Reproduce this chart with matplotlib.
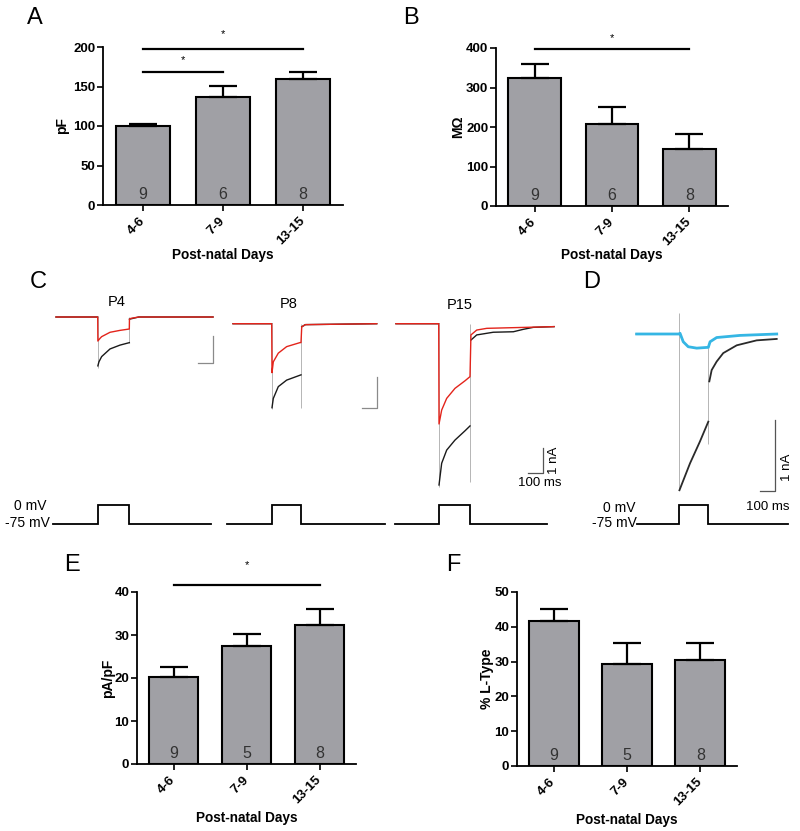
import numpy as np
import matplotlib
matplotlib.use('Agg')
import matplotlib.pyplot as plt

plt.rcParams['font.family'] = ['Liberation Sans', 'DejaVu Sans']
NARROW = ['Liberation Sans Narrow', 'Liberation Sans', 'DejaVu Sans']

# ---------------- bar chart data ----------------
categories = ['4-6', '7-9', '13-15']

cap_mean = [100, 137, 160]          # A: pF
cap_sem = [3, 14, 8]
cap_n = [9, 6, 8]

res_mean = [325, 207, 145]          # B: MOhm
res_sem = [35, 43, 37]
res_n = [9, 6, 8]

dens_mean = [20.3, 27.5, 32.4]      # E: pA/pF
dens_sem = [2.2, 2.8, 3.6]
dens_n = [9, 5, 8]

ltype_mean = [41.6, 29.3, 30.5]     # F: % L-type
ltype_sem = [3.6, 6.0, 4.8]
ltype_n = [9, 5, 8]

# significance brackets: (from index, to index, line value, star value)
cap_sig = [(0, 1, 168, 184), (0, 2, 198, 216)]
res_sig = [(0, 2, 398, 424)]
dens_sig = [(0, 2, 41.7, 46.3)]
ltype_sig = []

# ---------------- current traces (ms, nA; relative to pulse onset / baseline) ----------------
nan = np.nan
p4_red_t = [-264, 0, 1, 15, 25, 78, 141, 200, 201, 210, 260, 730]
p4_red_i = [0, 0, -0.88, -0.78, -0.72, -0.56, -0.49, -0.44, -0.08, -0.05, 0, 0]
p4_blk_t = [-264, 0, nan, 1, 8, 25, 78, 141, 200, nan, 201, 260, 730]
p4_blk_i = [0, 0, nan, -1.79, -1.64, -1.45, -1.17, -1.03, -0.94, nan, -0.08, 0, 0]

p8_red_t = [-264, 0, 2, 11, 45, 102, 193, 200, 205, 230, 717]
p8_red_i = [0, 0, -1.58, -1.23, -0.95, -0.74, -0.61, -0.61, -0.10, -0.03, 0]
p8_blk_t = [-264, 0, nan, 2, 11, 45, 102, 200, nan, 205, 230, 717]
p8_blk_i = [0, 0, nan, -2.71, -2.41, -2.03, -1.82, -1.65, nan, -0.10, -0.03, 0]

p15_red_t = [-273, 0, 2, 19, 51, 104, 168, 200, 206, 243, 307, 737]
p15_red_i = [0, 0, -4.11, -3.54, -3.06, -2.65, -2.34, -2.17, -0.46, -0.26, -0.19, -0.12]
p15_blk_t = [-273, 0, nan, 2, 19, 51, 104, 168, 200, nan, 206, 243, 349, 477, 541, 604, 737]
p15_blk_i = [0, 0, nan, -6.61, -5.72, -5.18, -4.77, -4.39, -4.19, nan, -0.67, -0.46, -0.35, -0.33, -0.23, -0.15, -0.12]

d_cyan_t = [-289, 0, 7, 29, 63, 121, 189, 200, 212, 257, 416, 667]
d_cyan_i = [0, 0, 0.01, -0.11, -0.18, -0.20, -0.19, -0.19, -0.11, -0.05, -0.02, 0]
d_blk_t = [-289, 0, nan, 3, 75, 143, 200, nan, 207, 223, 257, 302, 394, 530, 667]
d_blk_i = [0, 0, nan, -2.21, -1.83, -1.52, -1.24, nan, -0.67, -0.51, -0.39, -0.27, -0.16, -0.09, -0.07]

# capacitive transients (time, top, bottom)
p4_tr = ([0, 200], [0, 0], [-1.85, -0.94])
p8_tr = ([0, 200], [0, 0], [-2.75, -2.72])
p15_tr = ([0, 200], [0, 0], [-6.70, -6.47])
d_tr = ([0, 200], [0.30, -0.20], [-2.21, -1.55])

# voltage protocol
v_hold, v_step = -75, 0
pulse_ms = 200
proto_span = {'P4': (-285, 715), 'P8': (-307, 773), 'P15': (-278, 691), 'D': (-284, 746)}

# ---------------- figure ----------------
W, H = 800, 831
fig = plt.figure(figsize=(W / 100, H / 100), dpi=100)


def px_axes(x0, y0, x1, y1):
    return fig.add_axes([x0 / W, 1 - y1 / H, (x1 - x0) / W, (y1 - y0) / H])


def bar_panel(box, means, sems, ns, ymax, ystep, ylabel, sigs, xlab_off, ylab_off):
    ax = px_axes(*box)
    wpx = box[2] - box[0]
    hpx = box[3] - box[1]
    x = np.arange(len(categories))
    ax.bar(x, means, width=0.68, color='#a0a0a5', edgecolor='black', linewidth=1.5, zorder=3)
    ax.errorbar(x, means, yerr=[np.zeros(len(sems)), sems], fmt='none', ecolor='black',
                elinewidth=1.6, capsize=10, capthick=1.6, zorder=4)
    ax.set_xlim(-0.5, 2.5)
    ax.set_ylim(0, ymax)
    ax.set_yticks(np.arange(0, ymax + ystep / 2, ystep))
    ax.set_xticks(x)
    ax.set_xticklabels(categories, rotation=45, ha='right', va='center', rotation_mode='anchor',
                       fontweight='bold', fontsize=9.5)
    for lab in ax.get_yticklabels():
        lab.set_fontweight('bold')
        lab.set_fontsize(9.5)
    ax.tick_params(axis='both', direction='out', length=4, width=1.2, pad=1.5)
    ax.tick_params(axis='x', pad=6)
    for s in ['top', 'right']:
        ax.spines[s].set_visible(False)
    for s in ['left', 'bottom']:
        ax.spines[s].set_linewidth(1.3)
    ax.set_ylabel(ylabel, fontweight='bold', fontsize=10, va='center')
    ax.yaxis.set_label_coords(-ylab_off / wpx, 0.5)
    ax.set_xlabel('Post-natal Days', fontweight='bold', fontsize=9.8, va='center')
    ax.xaxis.set_label_coords(0.5, -xlab_off / hpx)
    for xi, n in zip(x, ns):
        ax.text(xi, ymax * 0.018, str(n), ha='center', va='bottom', fontsize=11.5, color='#333333', zorder=5)
    for a, b, yl, ys in sigs:
        ax.plot([a, b], [yl, yl], color='black', lw=1.6, clip_on=False, zorder=5)
        ax.text((a + b) / 2, ys, '*', ha='center', va='center', fontsize=8, clip_on=False)
    return ax


bar_panel((103, 47, 343, 205), cap_mean, cap_sem, cap_n, 200, 50, 'pF', cap_sig, 50, 41)
bar_panel((496, 48, 728, 206), res_mean, res_sem, res_n, 400, 100, 'M\u03a9', res_sig, 49, 38)
bar_panel((137, 592, 356, 764), dens_mean, dens_sem, dens_n, 40, 10, 'pA/pF', dens_sig, 54, 29)
bar_panel((517, 592, 737, 766), ltype_mean, ltype_sem, ltype_n, 50, 10, '% L-Type', ltype_sig, 54, 30)


# ---------------- trace panels ----------------
def trace_axes(box, t0, base, sx, sy):
    x0, y0, x1, y1 = box
    ax = px_axes(*box)
    ax.set_xlim((x0 - t0) / sx, (x1 - t0) / sx)
    ax.set_ylim(-(y1 - base) / sy, -(y0 - base) / sy)
    ax.axis('off')
    return ax


def proto_axes(box, t0, sx, base=524.3, top=505.0):
    x0, y0, x1, y1 = box
    ax = px_axes(*box)
    ax.set_xlim((x0 - t0) / sx, (x1 - t0) / sx)
    spv = (base - top) / (v_step - v_hold)
    ax.set_ylim(v_hold - (y1 - base) / spv, v_hold + (base - y0) / spv)
    ax.axis('off')
    return ax


def draw_proto(ax, span):
    t = [span[0], 0, 0, pulse_ms, pulse_ms, span[1]]
    v = [v_hold, v_hold, v_step, v_step, v_hold, v_hold]
    ax.plot(t, v, color='black', lw=1.3, solid_joinstyle='miter')


def scalebar(ax, tc, ic, color, lw=0.9):
    ax.plot([tc - 100, tc, tc], [ic, ic, ic + 1], color=color, lw=lw)


RED = '#e3241b'
BLK = '#1a1a1a'
GRY = '#b5b5b5'
CYAN = '#35b6e4'

groups = [
    ('P4', (40, 285, 230, 420), 97.7, 317.0, 0.158, 27.3, (0, 490, 225, 540)),
    ('P8', (220, 285, 395, 430), 271.7, 323.7, 0.1465, 31.0, (215, 490, 392, 540)),
    ('P15', (385, 285, 570, 500), 438.7, 323.7, 0.1565, 24.4, (385, 490, 560, 540)),
]
traces = {
    'P4': (p4_red_t, p4_red_i, p4_blk_t, p4_blk_i, p4_tr, (732, -1.70), (122, 0.55), '#8a8a8a'),
    'P8': (p8_red_t, p8_red_i, p8_blk_t, p8_blk_i, p8_tr, (717, -2.72), (118, 0.64), '#8a8a8a'),
    'P15': (p15_red_t, p15_red_i, p15_blk_t, p15_blk_i, p15_tr, (668, -6.11), (136, 0.77), '#555555'),
}

for name, box, t0, base, sx, sy, pbox in groups:
    rt, ri, bt, bi, tr, sb, lab, sbc = traces[name]
    ax = trace_axes(box, t0, base, sx, sy)
    ax.vlines(tr[0], tr[2], tr[1], color=GRY, lw=0.7, zorder=1)
    ax.plot(bt, bi, color=BLK, lw=1.0, zorder=2)
    ax.plot(rt, ri, color=RED, lw=1.0, zorder=3)
    scalebar(ax, sb[0], sb[1], sbc)
    ax.text(lab[0], lab[1], name, ha='center', va='center', fontsize=10.5)
    if name == 'P15':
        ax.annotate('1 nA', (sb[0], sb[1] + 0.5), xytext=(8, 0), textcoords='offset points',
                    rotation=90, ha='center', va='center', fontsize=9.5, family=NARROW)
        ax.annotate('100 ms', (sb[0] - 50, sb[1]), xytext=(3, -7.5), textcoords='offset points',
                    ha='center', va='center', fontsize=9.5, family=NARROW)
    pax = proto_axes(pbox, t0, sx)
    draw_proto(pax, proto_span[name])
    if name == 'P4':
        pax.annotate('0 mV', (proto_span[name][0], v_step), xytext=(-4.3, -1), textcoords='offset points',
                     ha='right', va='center', fontsize=10, family=NARROW)
        pax.annotate('-75 mV', (proto_span[name][0], v_hold), xytext=(-2, 0.7), textcoords='offset points',
                     ha='right', va='center', fontsize=10, family=NARROW)

# panel D
dt0, dbase, dsx, dsy = 679.0, 334.0, 0.1465, 70.7
axd = trace_axes((600, 295, 800, 520), dt0, dbase, dsx, dsy)
axd.vlines(d_tr[0], d_tr[2], d_tr[1], color=GRY, lw=0.7, zorder=1)
axd.plot(d_blk_t, d_blk_i, color='#2a2a2a', lw=1.3, zorder=2)
axd.plot(d_cyan_t, d_cyan_i, color=CYAN, lw=2.0, zorder=3)
scalebar(axd, 655, -2.22, '#555555')
axd.annotate('1 nA', (655, -1.72), xytext=(8.4, -8.4), textcoords='offset points',
             rotation=90, ha='center', va='center', fontsize=9.5, family=NARROW)
axd.annotate('100 ms', (605, -2.22), xytext=(0, -11.5), textcoords='offset points',
             ha='center', va='center', fontsize=9.5, family=NARROW)
paxd = proto_axes((590, 490, 800, 540), dt0, dsx)
draw_proto(paxd, proto_span['D'])
paxd.annotate('0 mV', (proto_span['D'][0], v_step), xytext=(-1.6, -2), textcoords='offset points',
              ha='right', va='center', fontsize=10, family=NARROW)
paxd.annotate('-75 mV', (proto_span['D'][0], v_hold), xytext=(-0.5, 0.7), textcoords='offset points',
              ha='right', va='center', fontsize=10, family=NARROW)

# panel letters
for letter, (px, py) in {'A': (34.5, 18), 'B': (411, 18), 'C': (38, 282), 'D': (592, 282),
                         'E': (72, 565), 'F': (453, 565)}.items():
    fig.text(px / W, 1 - py / H, letter, ha='center', va='center', fontsize=17)

fig.savefig('out.png', dpi=100)
